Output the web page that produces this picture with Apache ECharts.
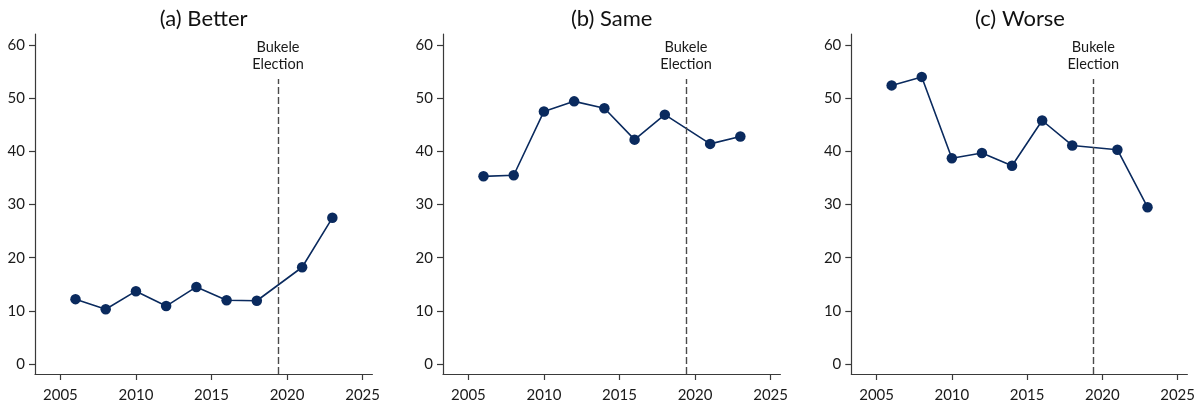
<!DOCTYPE html>
<html>
<head>
<meta charset="utf-8">
<script src="https://cdn.jsdelivr.net/npm/echarts@6/dist/echarts.min.js"></script>
<style>
  html, body { margin: 0; padding: 0; background: #fff; }
  #chart { width: 1198px; height: 404px; }
</style>
</head>
<body>
<div id="chart"></div>
<script>
// Survey years and share of responses (%) per panel
const years = [2006, 2008, 2010, 2012, 2014, 2016, 2018, 2021, 2023];
const better = [12.2, 10.3, 13.7, 10.9, 14.5, 12.0, 11.9, 18.2, 27.5];
const same = [35.3, 35.5, 47.5, 49.4, 48.1, 42.2, 46.9, 41.4, 42.8];
const worse = [52.4, 54.0, 38.7, 39.7, 37.3, 45.8, 41.1, 40.3, 29.5];
const panelTitles = ['(a) Better', '(b) Same', '(c) Worse'];
const xTicks = [2005, 2010, 2015, 2020, 2025];
const yTicks = [0, 10, 20, 30, 40, 50, 60];
const electionYear = 2019.4;
const electionLabel = 'Bukele\nElection';

const FONT = 'Lato, "DejaVu Sans", sans-serif';
const AXIS_COLOR = '#3a3a3a';
const MARK_COLOR = '#0a2a5e';

const panels = [better, same, worse];
const gridLefts = [35, 443, 851.3];
const gridWidth = 337.4;
const gridTop = 34;
const gridHeight = 340;

const X_MIN = 2003.32, X_MAX = 2025.65;
const Y_MIN = -1.88, Y_MAX = 62.07;

const grids = [], xAxes = [], yAxes = [], series = [], graphics = [];

panels.forEach((vals, i) => {
  grids.push({ left: gridLefts[i], top: gridTop, width: gridWidth, height: gridHeight, containLabel: false });
  xAxes.push({
    type: 'value', gridIndex: i, min: X_MIN, max: X_MAX,
    axisLine: { show: true, onZero: false, lineStyle: { color: AXIS_COLOR, width: 1.2 } },
    axisTick: { show: true, length: 6, customValues: xTicks, lineStyle: { color: AXIS_COLOR, width: 1.2 } },
    axisLabel: { customValues: xTicks, margin: 14, fontFamily: FONT, fontSize: 15, color: '#1a1a1a',
                 formatter: v => String(Math.round(v)) },
    splitLine: { show: false }
  });
  yAxes.push({
    type: 'value', gridIndex: i, min: Y_MIN, max: Y_MAX,
    axisLine: { show: true, onZero: false, lineStyle: { color: AXIS_COLOR, width: 1.2 } },
    axisTick: { show: true, length: 6, customValues: yTicks, lineStyle: { color: AXIS_COLOR, width: 1.2 } },
    axisLabel: { customValues: yTicks, margin: 10, fontFamily: FONT, fontSize: 15, color: '#1a1a1a',
                 formatter: v => String(Math.round(v)) },
    splitLine: { show: false }
  });
  series.push({
    type: 'line', xAxisIndex: i, yAxisIndex: i,
    data: years.map((y, k) => [y, vals[k]]),
    symbol: 'circle', symbolSize: 10.5,
    itemStyle: { color: MARK_COLOR },
    lineStyle: { color: MARK_COLOR, width: 1.6 },
    animation: false,
    markLine: {
      silent: true, symbol: 'none', animation: false,
      lineStyle: { color: '#4a4a4a', width: 1.4, type: [7, 3] },
      label: {
        show: true, position: 'end', formatter: electionLabel, distance: 6,
        fontFamily: FONT, fontSize: 14.5, lineHeight: 17, color: '#1a1a1a'
      },
      data: [[{ coord: [electionYear, Y_MIN] }, { coord: [electionYear, 53.6] }]]
    }
  });
  graphics.push({
    type: 'text', x: gridLefts[i] + gridWidth / 2, y: 19,
    style: { text: panelTitles[i], fontFamily: FONT, fontSize: 22, fill: '#111',
             textAlign: 'center', textVerticalAlign: 'middle' }
  });
});

const chart = echarts.init(document.getElementById('chart'), null, { renderer: 'canvas' });
chart.setOption({
  backgroundColor: '#fff',
  animation: false,
  grid: grids,
  xAxis: xAxes,
  yAxis: yAxes,
  series: series,
  graphic: graphics
});
</script>
</body>
</html>
